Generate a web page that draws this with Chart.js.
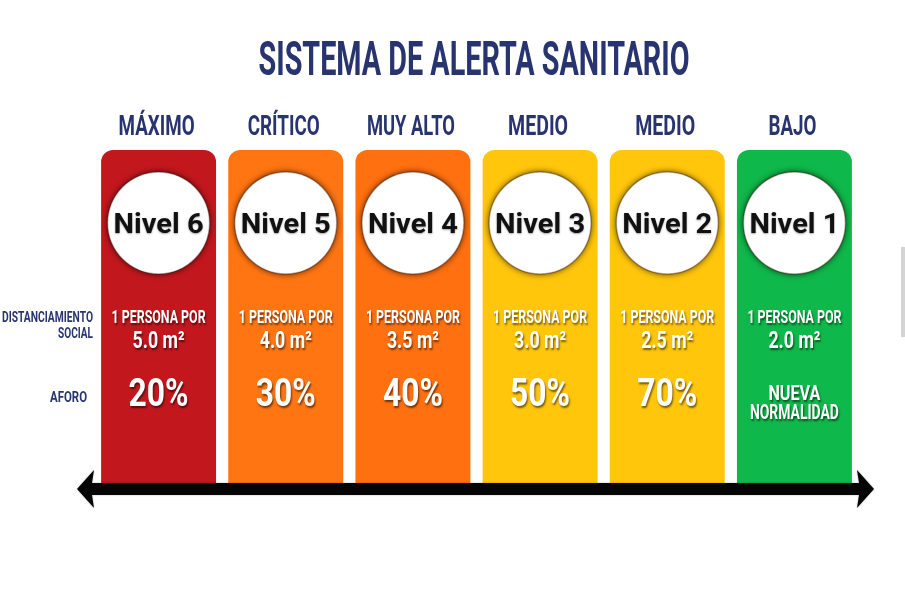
<!DOCTYPE html>
<html>
<head>
<meta charset="utf-8">
<script src="https://cdn.jsdelivr.net/npm/chart.js@4"></script>
<style>
  html, body { margin: 0; padding: 0; background: #fff; }
  #wrap { width: 905px; height: 613px; position: relative; }
</style>
</head>
<body>
<div id="wrap"><canvas id="alerta"></canvas></div>
<script>
const categorias = ["MÁXIMO", "CRÍTICO", "MUY ALTO", "MEDIO", "MEDIO", "BAJO"];
const niveles = ["Nivel 6", "Nivel 5", "Nivel 4", "Nivel 3", "Nivel 2", "Nivel 1"];
const metros = ["5.0", "4.0", "3.5", "3.0", "2.5", "2.0"];
const aforo = ["20%", "30%", "40%", "50%", "70%", "NUEVA NORMALIDAD"];
const alturas = [1, 1, 1, 1, 1, 1];

const colores = ["#C3171E", "#FF7512", "#FF7010", "#FFC60C", "#FFC60C", "#0FB84A"];
const NAVY = "#283470";
const FONT = "Roboto, 'Liberation Sans', sans-serif";

// draws text squeezed horizontally so it fits a target width (condensed look)
function condensed(ctx, text, x, y, size, width, color, align, shadow) {
  ctx.save();
  ctx.font = "bold " + size + "px " + FONT;
  const w = ctx.measureText(text).width;
  const sx = width / w;
  ctx.translate(x, y);
  ctx.scale(sx, 1);
  ctx.textBaseline = "alphabetic";
  ctx.textAlign = align || "center";
  if (shadow) {
    ctx.shadowColor = "rgba(0,0,0,0.55)";
    ctx.shadowOffsetX = 1;
    ctx.shadowOffsetY = 2;
    ctx.shadowBlur = 2;
  }
  ctx.fillStyle = color;
  ctx.fillText(text, 0, 0);
  ctx.restore();
}

const decor = {
  id: "decor",
  afterDatasetsDraw(chart) {
    const ctx = chart.ctx;
    const xs = chart.scales.x;
    const area = chart.chartArea;

    // title
    condensed(ctx, "SISTEMA DE ALERTA SANITARIO", 474, 75, 48, 431, NAVY, "center");

    // side labels
    condensed(ctx, "DISTANCIAMIENTO", 93, 322, 14, 91, NAVY, "right");
    condensed(ctx, "SOCIAL", 93, 338, 14, 35, NAVY, "right");
    condensed(ctx, "AFORO", 87, 402, 14, 37, NAVY, "right");

    categorias.forEach((cat, i) => {
      const cx = xs.getPixelForValue(i);
      // top label
      const wCat = { "MÁXIMO": 76, "CRÍTICO": 72, "MUY ALTO": 88, "MEDIO": 60, "BAJO": 48 }[cat];
      condensed(ctx, cat, cx - 2, 135, 28, wCat, NAVY, "center");

      // circle
      const cy = area.top + 73;
      ctx.save();
      ctx.beginPath();
      ctx.arc(cx, cy, 51, 0, Math.PI * 2);
      ctx.shadowColor = "rgba(0,0,0,0.75)";
      ctx.shadowBlur = 6;
      ctx.fillStyle = "#fff";
      ctx.fill();
      ctx.restore();
      ctx.save();
      ctx.beginPath();
      ctx.arc(cx, cy, 51, 0, Math.PI * 2);
      ctx.strokeStyle = "rgba(60,20,10,0.35)";
      ctx.lineWidth = 1.5;
      ctx.stroke();
      ctx.restore();

      ctx.save();
      ctx.font = "bold 28px " + FONT;
      const wn = ctx.measureText(niveles[i]).width;
      ctx.translate(cx, cy + 10);
      ctx.scale(90 / wn, 1);
      ctx.textAlign = "center";
      ctx.shadowColor = "rgba(0,0,0,0.35)";
      ctx.shadowOffsetY = 1;
      ctx.shadowBlur = 2;
      ctx.fillStyle = "#111";
      ctx.fillText(niveles[i], 0, 0);
      ctx.restore();

      // distancing text
      condensed(ctx, "1 PERSONA POR", cx, 323, 18, 94, "#fff", "center", true);
      condensed(ctx, metros[i] + " m²", cx, 348, 24, 52, "#fff", "center", true);

      // capacity
      if (aforo[i].indexOf("%") >= 0) {
        condensed(ctx, aforo[i], cx, 406, 38, 60, "#fff", "center", true);
      } else {
        const parts = aforo[i].split(" ");
        condensed(ctx, parts[0], cx, 400, 20, 52, "#fff", "center", true);
        condensed(ctx, parts[1], cx, 419, 20, 89, "#fff", "center", true);
      }
    });

    // double-headed arrow along the base
    const y = area.bottom + 5;
    const lx = area.left - 18;
    const rx = area.right + 16;
    ctx.save();
    ctx.fillStyle = "#050505";
    ctx.shadowColor = "rgba(0,0,0,0.3)";
    ctx.shadowBlur = 2;
    ctx.beginPath();
    ctx.moveTo(lx, y);
    ctx.lineTo(lx + 17, y - 19);
    ctx.lineTo(lx + 15, y - 6);
    ctx.lineTo(rx - 15, y - 6);
    ctx.lineTo(rx - 17, y - 19);
    ctx.lineTo(rx, y);
    ctx.lineTo(rx - 17, y + 19);
    ctx.lineTo(rx - 15, y + 6);
    ctx.lineTo(lx + 15, y + 6);
    ctx.lineTo(lx + 17, y + 19);
    ctx.closePath();
    ctx.fill();
    ctx.restore();

    // faint grey edge at right border of the capture
    ctx.save();
    ctx.fillStyle = "#d4d4d4";
    ctx.fillRect(901, 247, 4, 90);
    ctx.restore();
  }
};

new Chart(document.getElementById("alerta"), {
  type: "bar",
  data: {
    labels: categorias,
    datasets: [{
      data: alturas,
      backgroundColor: colores,
      borderWidth: 0,
      borderSkipped: "bottom",
      borderRadius: { topLeft: 12, topRight: 12, bottomLeft: 0, bottomRight: 0 },
      categoryPercentage: 1,
      barPercentage: 0.904
    }]
  },
  options: {
    responsive: true,
    maintainAspectRatio: false,
    animation: false,
    layout: { padding: { top: 150, bottom: 129, left: 95, right: 47 } },
    scales: {
      x: { display: false },
      y: { display: false, min: 0, max: 1 }
    },
    plugins: {
      legend: { display: false },
      tooltip: { enabled: false }
    }
  },
  plugins: [decor]
});
</script>
</body>
</html>
